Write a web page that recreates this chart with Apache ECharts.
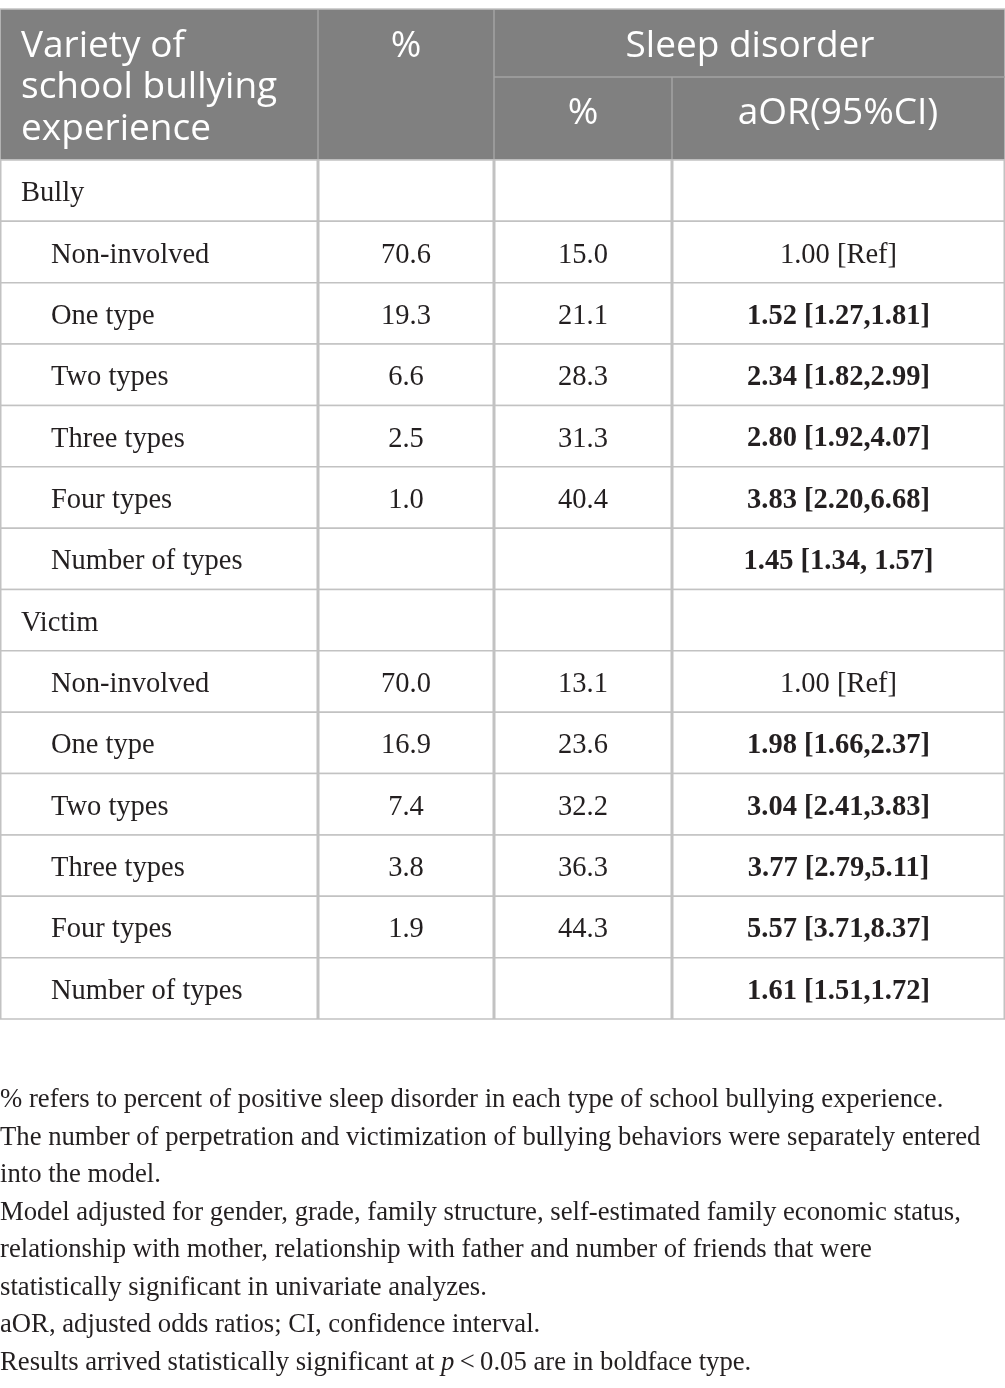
<!DOCTYPE html>
<html>
<head>
<meta charset="utf-8">
<script src="https://cdn.jsdelivr.net/npm/echarts@6/dist/echarts.min.js"></script>
<style>
  html, body { margin: 0; padding: 0; background: #fff; }
  #main { width: 1005px; height: 1388px; }
</style>
</head>
<body>
<div id="main"></div>
<script>
'use strict';

// table rows (top to bottom)
var rowLabels = ['Bully', 'Non-involved', 'One type', 'Two types', 'Three types', 'Four types', 'Number of types',
  'Victim', 'Non-involved', 'One type', 'Two types', 'Three types', 'Four types', 'Number of types'];
var isGroup = [true, false, false, false, false, false, false, true, false, false, false, false, false, false];
// % of sample in each type
var pctAll = [null, 70.6, 19.3, 6.6, 2.5, 1.0, null, null, 70.0, 16.9, 7.4, 3.8, 1.9, null];
// % with sleep disorder
var pctSleep = [null, 15.0, 21.1, 28.3, 31.3, 40.4, null, null, 13.1, 23.6, 32.2, 36.3, 44.3, null];
// aOR (95% CI)
var aorText = ['', '1.00 [Ref]', '1.52 [1.27,1.81]', '2.34 [1.82,2.99]', '2.80 [1.92,4.07]', '3.83 [2.20,6.68]', '1.45 [1.34, 1.57]',
  '', '1.00 [Ref]', '1.98 [1.66,2.37]', '3.04 [2.41,3.83]', '3.77 [2.79,5.11]', '5.57 [3.71,8.37]', '1.61 [1.51,1.72]'];
var aorBold = [false, false, true, true, true, true, true, false, false, true, true, true, true, true];

var headerLines = ['Variety of', 'school bullying', 'experience'];
var notes = [
  '% refers to percent of positive sleep disorder in each type of school bullying experience.',
  'The number of perpetration and victimization of bullying behaviors were separately entered',
  'into the model.',
  'Model adjusted for gender, grade, family structure, self-estimated family economic status,',
  'relationship with mother, relationship with father and number of friends that were',
  'statistically significant in univariate analyzes.',
  'aOR, adjusted odds ratios; CI, confidence interval.',
  'Results arrived statistically significant at {i|p}\u2009<\u20090.05 are in boldface type.'
];

// layout
var colEdges = [0, 318, 494, 672, 1005];
var lineColor = '#c2c2c2';
var headFill = '#808080';
var headLine = '#a3a3a3';
var serif = '"Liberation Serif", "DejaVu Serif", serif';
var sans = '"Open Sans", "Noto Sans", sans-serif';
var textColor = '#231f20';

function fmt(v) {
  return v == null ? '' : v.toFixed(1);
}

function cellText(c, i) {
  if (c === 0) return rowLabels[i];
  if (c === 1) return fmt(pctAll[i]);
  if (c === 2) return fmt(pctSleep[i]);
  return aorText[i];
}

function renderRow(params, api) {
  var i = api.value(1);
  var mid = api.coord([0, i]);
  var h = api.size([0, 1])[1];
  var top = mid[1] - h / 2;
  var children = [];
  for (var c = 0; c < 4; c++) {
    var x0 = api.coord([colEdges[c], i])[0];
    var x1 = api.coord([colEdges[c + 1], i])[0];
    children.push({
      type: 'rect',
      shape: { x: x0 + 0.75, y: top, width: x1 - x0 - 1.5, height: h },
      style: { fill: '#fff', stroke: lineColor, lineWidth: 1.5 }
    });
    var t = cellText(c, i);
    if (!t) continue;
    children.push({
      type: 'text',
      x: c === 0 ? x0 + (isGroup[i] ? 21 : 51) : (x0 + x1) / 2,
      y: mid[1] + 3,
      style: {
        text: t,
        fill: textColor,
        font: (c === 3 && aorBold[i] ? 'bold ' : '') + '28.5px ' + serif,
        textAlign: c === 0 ? 'left' : 'center',
        textVerticalAlign: 'middle'
      }
    });
  }
  return { type: 'group', children: children };
}

// header graphics
var graphics = [
  { type: 'rect', shape: { x: 0, y: 9, width: 1005, height: 151 }, style: { fill: headFill, stroke: lineColor, lineWidth: 1.5 } },
  { type: 'line', shape: { x1: 494, y1: 77, x2: 1005, y2: 77 }, style: { stroke: headLine, lineWidth: 1.5 } },
  { type: 'line', shape: { x1: 318, y1: 10, x2: 318, y2: 160 }, style: { stroke: headLine, lineWidth: 1.5 } },
  { type: 'line', shape: { x1: 494, y1: 10, x2: 494, y2: 160 }, style: { stroke: headLine, lineWidth: 1.5 } },
  { type: 'line', shape: { x1: 672, y1: 77, x2: 672, y2: 160 }, style: { stroke: headLine, lineWidth: 1.5 } }
];
headerLines.forEach(function(s, k) {
  graphics.push({ type: 'text', x: 21, y: 46 + k * 41.5,
    style: { text: s, fill: '#fff', font: '37px ' + sans, textAlign: 'left', textVerticalAlign: 'middle' } });
});
[['%', 406, 46], ['Sleep disorder', 750, 46], ['%', 583, 113], ['aOR(95%CI)', 838, 113]].forEach(function(h) {
  graphics.push({ type: 'text', x: h[1], y: h[2],
    style: { text: h[0], fill: '#fff', font: '37px ' + sans, textAlign: 'center', textVerticalAlign: 'middle' } });
});
notes.forEach(function(s, k) {
  graphics.push({ type: 'text', x: 0, y: 1100 + k * 37.5,
    style: {
      text: s, fill: textColor, font: '26.7px ' + serif, textVerticalAlign: 'middle',
      rich: { i: { fontStyle: 'italic', fontFamily: serif, fontSize: 26.7, fill: textColor } }
    } });
});

var chart = echarts.init(document.getElementById('main'), null, { renderer: 'canvas' });
chart.setOption({
  animation: false,
  backgroundColor: '#fff',
  grid: { left: 0, right: 0, top: 160, bottom: 369 },
  xAxis: { type: 'value', min: 0, max: 1005, show: false },
  yAxis: { type: 'category', data: rowLabels, inverse: true, show: false },
  series: [{
    type: 'custom',
    renderItem: renderRow,
    encode: { x: 0, y: 1 },
    data: rowLabels.map(function(r, i) { return [0, i]; })
  }],
  graphic: graphics
});
</script>
</body>
</html>
